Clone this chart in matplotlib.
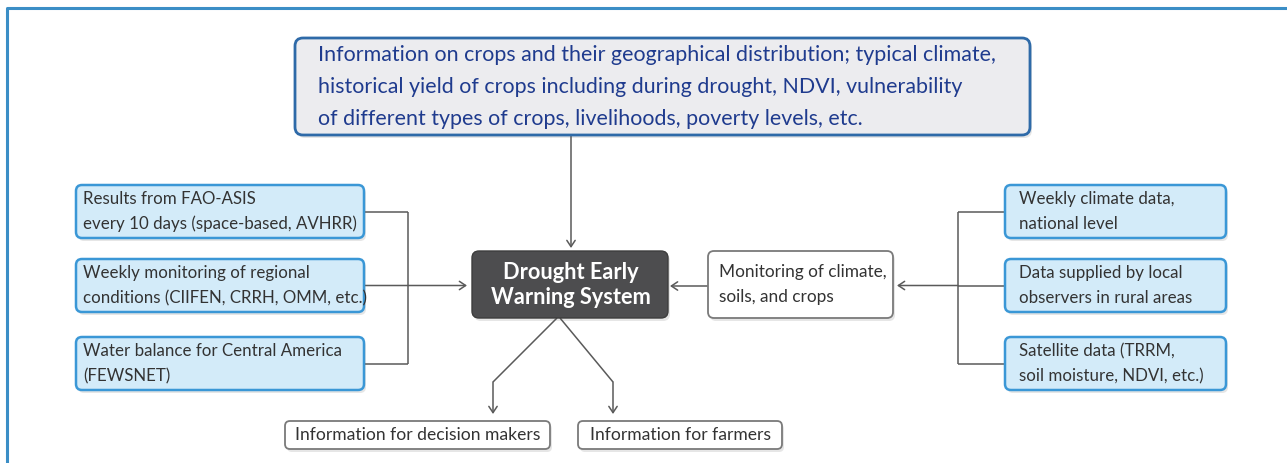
import matplotlib
matplotlib.use("Agg")
import matplotlib.pyplot as plt
from matplotlib.patches import FancyBboxPatch

# ---- content ----
top_text = ("Information on crops and their geographical distribution; typical climate,\n"
            "historical yield of crops including during drought, NDVI, vulnerability\n"
            "of different types of crops, livelihoods, poverty levels, etc.")
center_text = "Drought Early\nWarning System"
monitor_text = "Monitoring of climate,\nsoils, and crops"
left_texts = ["Results from FAO-ASIS\nevery 10 days (space-based, AVHRR)",
              "Weekly monitoring of regional\nconditions (CIIFEN, CRRH, OMM, etc.)",
              "Water balance for Central America\n(FEWSNET)"]
right_texts = ["Weekly climate data,\nnational level",
               "Data supplied by local\nobservers in rural areas",
               "Satellite data (TRRM,\nsoil moisture, NDVI, etc.)"]
output_texts = ["Information for decision makers", "Information for farmers"]

# ---- layout (pixels) ----
W, H = 1287, 463
FONT = ["Lato", "DejaVu Sans"]
left_box_x = (76, 364)
right_box_x = (1005, 1226)
side_box_y = [(185, 238), (259, 312), (337, 390)]
out_boxes = [(285, 550), (578, 782)]
out_y = (421, 449)

fig = plt.figure(figsize=(W / 100, H / 100), dpi=100)
ax = fig.add_axes([0, 0, 1, 1])
ax.set_xlim(0, W)
ax.set_ylim(H, 0)
ax.axis("off")

LINE = "#5a5a5a"
SMALL = 12.2

def box(x0, y0, x1, y1, fc, ec, lw=1.6, r=6, shadow=True):
    if shadow:
        ax.add_patch(FancyBboxPatch((x0 + 2, y0 + 3), x1 - x0, y1 - y0,
                                    boxstyle=f"round,pad=0,rounding_size={r}",
                                    fc="#e6e6e6", ec="none", zorder=1))
    ax.add_patch(FancyBboxPatch((x0, y0), x1 - x0, y1 - y0,
                                boxstyle=f"round,pad=0,rounding_size={r}",
                                fc=fc, ec=ec, lw=lw, zorder=2))

def line(xs, ys):
    ax.plot(xs, ys, color=LINE, lw=1.1, zorder=1.5, solid_capstyle="butt")

def arrow(x0, y0, x1, y1):
    ax.annotate("", xy=(x1, y1), xytext=(x0, y0),
                arrowprops=dict(arrowstyle="->,head_length=0.45,head_width=0.3",
                                color=LINE, lw=1.1, shrinkA=0, shrinkB=0), zorder=1.5)

# outer frame
ax.plot([7, 7, W], [H, 7.5, 7.5], color="#3b8ec6", lw=2.2, solid_capstyle="butt")

# top box
box(295, 38, 1030, 135, "#ececef", "#2e6aa8", lw=2.0, r=8)
ax.text(318, 87, top_text, ha="left", va="center", fontsize=15.4,
        color="#1f3b8e", family=FONT, linespacing=1.72, zorder=3)
arrow(571, 136, 571, 248)

# center box
box(472, 251, 668, 318, "#4d4d4f", "#3d3d3d", lw=1.0, r=7)
ax.text(571, 285, center_text, ha="center", va="center", fontsize=15.7,
        fontweight="bold", color="white", family=FONT, linespacing=1.25, zorder=3)

# monitoring box
box(708, 251, 893, 318, "white", "#7a7a7a", lw=1.3, r=6)
ax.text(719, 284.5, monitor_text, ha="left", va="center", fontsize=12.4,
        color="#333333", family=FONT, linespacing=1.65, zorder=3)
arrow(708, 286, 670, 286)

# left side boxes
for (y0, y1), t in zip(side_box_y, left_texts):
    box(left_box_x[0], y0, left_box_x[1], y1, "#d3ebf9", "#3a97d6", lw=1.8, r=6)
    ax.text(83, (y0 + y1) / 2, t, ha="left", va="center", fontsize=SMALL,
            color="#333333", family=FONT, linespacing=1.68, zorder=3)
ymid = [(a + b) / 2 for a, b in side_box_y]
line([364, 408], [ymid[0], ymid[0]])
line([364, 408], [ymid[2], ymid[2]])
line([408, 408], [ymid[0], ymid[2]])
arrow(364, ymid[1], 467, ymid[1])

# right side boxes
for (y0, y1), t in zip(side_box_y, right_texts):
    box(right_box_x[0], y0, right_box_x[1], y1, "#d3ebf9", "#3a97d6", lw=1.8, r=6)
    ax.text(1019, (y0 + y1) / 2, t, ha="left", va="center", fontsize=SMALL,
            color="#333333", family=FONT, linespacing=1.68, zorder=3)
for ym in ymid:
    line([958, 1005], [ym, ym])
line([958, 958], [ymid[0], ymid[2]])
arrow(958, ymid[1], 897, ymid[1])

# outputs
line([557, 493], [318, 382])
arrow(493, 382, 493, 414)
line([560, 613], [318, 382])
arrow(613, 382, 613, 414)
for (x0, x1), t in zip(out_boxes, output_texts):
    box(x0, out_y[0], x1, out_y[1], "white", "#7a7a7a", lw=1.3, r=5)
    ax.text((x0 + x1) / 2, (out_y[0] + out_y[1]) / 2, t, ha="center", va="center",
            fontsize=12.6, color="#333333", family=FONT, zorder=3)

fig.savefig("out.png", dpi=100)
